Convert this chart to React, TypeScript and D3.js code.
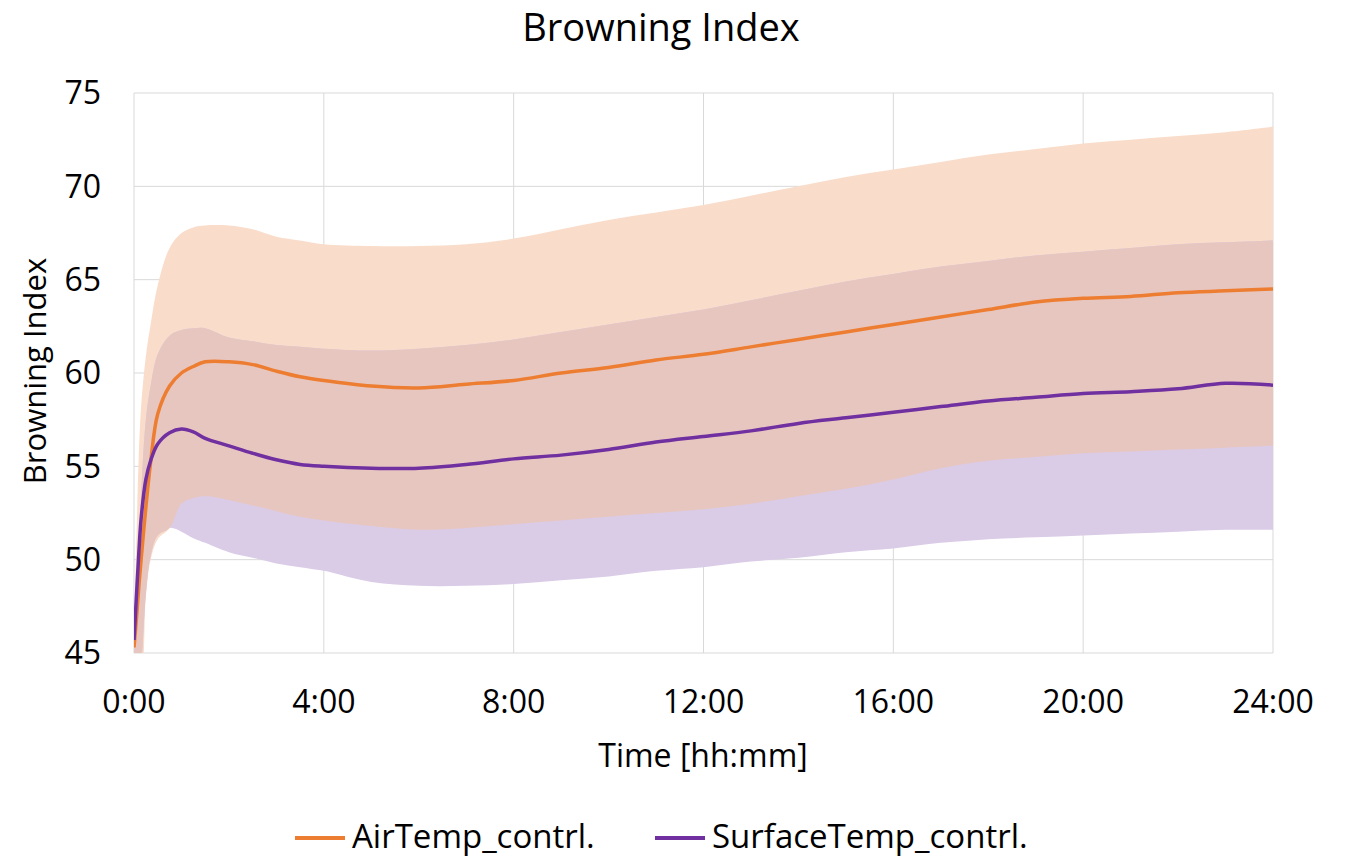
import React, { useRef, useEffect } from 'react';
import * as d3 from 'd3';

// time in hours after start
const hours = [0, 0.05, 0.1, 0.15, 0.25, 0.35, 0.5, 0.75, 1, 1.25, 1.5, 2, 2.5, 3, 3.5, 4, 5, 6, 7, 8, 9, 10, 11, 12, 13, 14, 15, 16, 17, 18, 19, 20, 21, 22, 23, 24];

const airMean = [45.3, 46.8, 48.5, 50.0, 52.8, 55.2, 57.8, 59.3, 60.0, 60.35, 60.6, 60.6, 60.45, 60.1, 59.8, 59.6, 59.3, 59.2, 59.4, 59.6, 60.0, 60.3, 60.7, 61.0, 61.4, 61.8, 62.2, 62.6, 63.0, 63.4, 63.8, 64.0, 64.1, 64.3, 64.4, 64.5];
const airUpper = [46, 51, 55.5, 58.2, 60.9, 62.6, 64.7, 66.7, 67.5, 67.8, 67.9, 67.9, 67.7, 67.3, 67.1, 66.9, 66.8, 66.8, 66.9, 67.2, 67.7, 68.2, 68.6, 69.0, 69.5, 70.0, 70.5, 70.9, 71.3, 71.7, 72.0, 72.3, 72.5, 72.7, 72.9, 73.2];
const airLower = [44, 44, 44, 44, 48.0, 50.0, 51.1, 51.7, 53.0, 53.3, 53.4, 53.2, 52.9, 52.6, 52.3, 52.1, 51.8, 51.6, 51.7, 51.9, 52.1, 52.3, 52.5, 52.7, 53.0, 53.4, 53.8, 54.3, 54.9, 55.3, 55.5, 55.7, 55.8, 55.9, 56.0, 56.1];

const surfMean = [45.7, 48.0, 50.3, 52.2, 54.3, 55.3, 56.2, 56.8, 57.0, 56.85, 56.5, 56.1, 55.7, 55.35, 55.1, 55.0, 54.9, 54.9, 55.1, 55.4, 55.6, 55.9, 56.3, 56.6, 56.9, 57.3, 57.6, 57.9, 58.2, 58.5, 58.7, 58.9, 59.0, 59.15, 59.45, 59.35];
const surfUpper = [45, 47, 50, 53.5, 57.5, 59.3, 61.0, 62.0, 62.3, 62.4, 62.4, 61.9, 61.7, 61.5, 61.4, 61.3, 61.2, 61.3, 61.5, 61.8, 62.2, 62.6, 63.0, 63.4, 63.9, 64.4, 64.9, 65.3, 65.7, 66.0, 66.3, 66.5, 66.7, 66.9, 67.0, 67.1];
const surfLower = [44, 44, 44, 44.5, 48.2, 50.2, 51.3, 51.7, 51.5, 51.15, 50.9, 50.4, 50.1, 49.8, 49.6, 49.4, 48.8, 48.6, 48.6, 48.7, 48.9, 49.1, 49.4, 49.6, 49.9, 50.1, 50.4, 50.6, 50.9, 51.1, 51.2, 51.3, 51.4, 51.5, 51.6, 51.6];

const xTicks = [0, 4, 8, 12, 16, 20, 24];
const yTicks = [45, 50, 55, 60, 65, 70, 75];
const seriesNames = ['AirTemp_contrl.', 'SurfaceTemp_contrl.'];

const FONT = '"Open Sans", "Noto Sans", sans-serif';

const App = () => {
    const svgRef = useRef<SVGSVGElement>(null);

    useEffect(() => {
        const svg = d3.select(svgRef.current);
        svg.selectAll('*').remove();

        const left = 134, right = 1273, top = 93, bottom = 653;
        const x = d3.scaleLinear().domain([0, 24]).range([left, right]);
        const y = d3.scaleLinear().domain([45, 75]).range([bottom, top]);
        const curve = d3.curveCatmullRom.alpha(0.5);

        svg.append('defs').append('clipPath').attr('id', 'plotClip')
            .append('rect').attr('x', left).attr('y', top)
            .attr('width', right - left).attr('height', bottom - top);

        // grid
        const grid = svg.append('g');
        grid.selectAll('.hg').data(yTicks).join('line')
            .attr('x1', left).attr('x2', right)
            .attr('y1', d => y(d)).attr('y2', d => y(d))
            .attr('stroke', '#d9d9d9').attr('stroke-width', 1);
        grid.selectAll('.vg').data(xTicks).join('line')
            .attr('x1', d => x(d)).attr('x2', d => x(d))
            .attr('y1', top).attr('y2', bottom)
            .attr('stroke', '#d9d9d9').attr('stroke-width', 1);

        const idx = hours.map((_, i) => i);
        const plot = svg.append('g').attr('clip-path', 'url(#plotClip)');

        const band = (lo: number[], hi: number[]) => d3.area<number>()
            .x(i => x(hours[i]))
            .y0(i => y(lo[i]))
            .y1(i => y(hi[i]))
            .curve(curve);

        plot.append('path').datum(idx).attr('d', band(airLower, airUpper)).attr('fill', '#f9ddca');
        plot.append('path').datum(idx).attr('d', band(surfLower, surfUpper)).attr('fill', '#dacbe7');

        // overlap of both bands
        const ovLo = idx.map(i => Math.max(airLower[i], surfLower[i]));
        const ovHi = idx.map(i => Math.max(Math.min(airUpper[i], surfUpper[i]), ovLo[i]));
        plot.append('path').datum(idx).attr('d', band(ovLo, ovHi)).attr('fill', '#e8c6c0');

        const line = (v: number[]) => d3.line<number>()
            .x(i => x(hours[i]))
            .y(i => y(v[i]))
            .curve(curve);

        plot.append('path').datum(idx).attr('d', line(airMean))
            .attr('fill', 'none').attr('stroke', '#ed7d31').attr('stroke-width', 3.5);
        plot.append('path').datum(idx).attr('d', line(surfMean))
            .attr('fill', 'none').attr('stroke', '#7030a0').attr('stroke-width', 3.5);

        // tick labels
        svg.append('g').selectAll('text').data(yTicks).join('text')
            .attr('x', 101).attr('y', d => y(d)).attr('dy', '0.35em')
            .attr('text-anchor', 'end').attr('font-family', FONT).attr('font-size', 32)
            .attr('fill', '#000').text(d => d);
        svg.append('g').selectAll('text').data(xTicks).join('text')
            .attr('x', d => x(d)).attr('y', 702).attr('dy', '0.35em')
            .attr('text-anchor', 'middle').attr('font-family', FONT).attr('font-size', 32)
            .attr('fill', '#000').text(d => `${d}:00`);

        // titles
        svg.append('text').attr('x', 661).attr('y', 28).attr('dy', '0.35em')
            .attr('text-anchor', 'middle').attr('font-family', FONT).attr('font-size', 38)
            .text('Browning Index');
        svg.append('text').attr('x', 703).attr('y', 756).attr('dy', '0.35em')
            .attr('text-anchor', 'middle').attr('font-family', FONT).attr('font-size', 32)
            .text('Time [hh:mm]');
        svg.append('text').attr('transform', 'translate(35,371) rotate(-90)').attr('dy', '0.35em')
            .attr('text-anchor', 'middle').attr('font-family', FONT).attr('font-size', 31)
            .text('Browning Index');

        // legend
        const legendX = [295, 655];
        const legendColors = ['#ed7d31', '#7030a0'];
        const lg = svg.append('g');
        seriesNames.forEach((name, i) => {
            lg.append('line').attr('x1', legendX[i]).attr('x2', legendX[i] + 50)
                .attr('y1', 838).attr('y2', 838)
                .attr('stroke', legendColors[i]).attr('stroke-width', 4);
            lg.append('text').attr('x', legendX[i] + 57).attr('y', 836).attr('dy', '0.35em')
                .attr('font-family', FONT).attr('font-size', 33).text(name);
        });
    }, []);

    return (
        <svg ref={svgRef} width={1349} height={861}
            style={{ position: 'absolute', left: 0, top: 0, background: '#fff' }} />
    );
};

export default App;
